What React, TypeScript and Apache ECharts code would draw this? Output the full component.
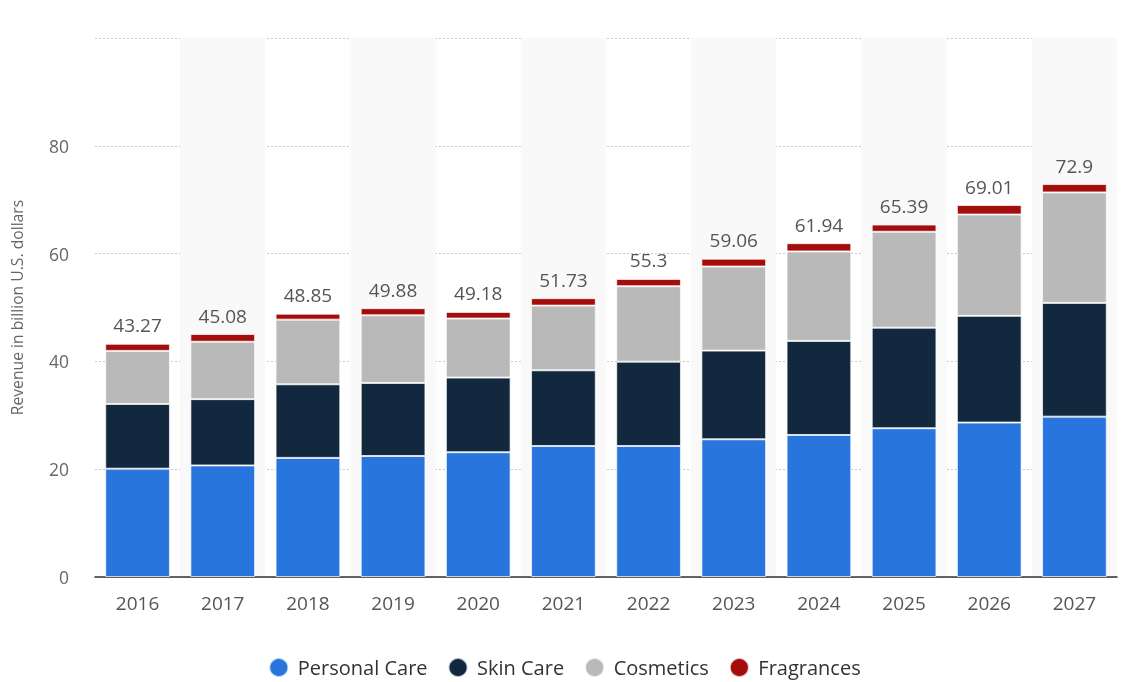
import React, { useEffect, useRef } from "react";
import * as echarts from "echarts";

const years = ["2016", "2017", "2018", "2019", "2020", "2021", "2022", "2023", "2024", "2025", "2026", "2027"];
const personalCare = [20.1, 20.7, 22.1, 22.45, 23.15, 24.3, 24.3, 25.55, 26.35, 27.6, 28.65, 29.75];
const skinCare = [12.0, 12.3, 13.65, 13.55, 13.85, 14.05, 15.65, 16.45, 17.45, 18.65, 19.8, 21.1];
const cosmetics = [9.85, 10.65, 12.0, 12.55, 10.95, 12.0, 14.0, 15.6, 16.6, 17.8, 18.8, 20.5];
const fragrances = [1.32, 1.43, 1.1, 1.33, 1.23, 1.38, 1.35, 1.46, 1.54, 1.34, 1.76, 1.55];
const totals = ["43.27", "45.08", "48.85", "49.88", "49.18", "51.73", "55.3", "59.06", "61.94", "65.39", "69.01", "72.9"];

const FONT = "'Open Sans', 'Noto Sans', sans-serif";

export default function App() {
  const ref = useRef<HTMLDivElement>(null);
  useEffect(() => {
    if (!ref.current) return;
    const chart = echarts.init(ref.current, undefined, { renderer: "svg" });
    const seg = (name: string, data: number[], color: string, extra: any = {}) => ({
      name,
      type: "bar",
      stack: "total",
      data,
      barCategoryGap: "24%",
      itemStyle: { color, borderColor: "rgba(255,255,255,0.7)", borderWidth: 1 },
      emphasis: { disabled: true },
      ...extra,
    });
    chart.setOption({
      animation: false,
      textStyle: { fontFamily: FONT },
      grid: { left: 95, right: 12, top: 38, bottom: 105, containLabel: false, outerBoundsMode: "none" },
      legend: {
        top: 652,
        left: "center",
        icon: "circle",
        itemWidth: 28,
        itemHeight: 19,
        itemGap: 20,
        textStyle: { fontSize: 20, color: "#333", fontFamily: FONT },
        data: ["Personal Care", "Skin Care", "Cosmetics", "Fragrances"],
      },
      xAxis: {
        type: "category",
        data: years,
        axisLine: { lineStyle: { color: "#333", width: 1.5 } },
        axisTick: { show: false },
        axisLabel: { fontSize: 19, color: "#555", margin: 16 },
        splitArea: { show: true, areaStyle: { color: ["rgba(0,0,0,0)", "#f9f9f9"] } },
      },
      yAxis: {
        type: "value",
        min: 0,
        max: 100,
        interval: 20,
        name: "Revenue in billion U.S. dollars",
        nameLocation: "middle",
        nameGap: 70,
        nameTextStyle: { fontSize: 15.7, color: "#666" },
        axisLine: { show: false },
        axisTick: { show: false },
        axisLabel: {
          fontSize: 17.5,
          color: "#666",
          margin: 26,
          formatter: (v: number) => (v === 100 ? "" : String(v)),
        },
        splitLine: { lineStyle: { color: "#c8c8c8", type: [2, 2], width: 1 } },
      },
      series: [
        seg("Personal Care", personalCare, "#2876dd"),
        seg("Skin Care", skinCare, "#12283f"),
        seg("Cosmetics", cosmetics, "#b9b9b9"),
        seg("Fragrances", fragrances, "#a50c0c", {
          label: {
            show: true,
            position: "top",
            distance: 9,
            fontSize: 19,
            color: "#555",
            fontFamily: FONT,
            formatter: (p: any) => totals[p.dataIndex],
          },
        }),
      ],
    });
    return () => chart.dispose();
  }, []);
  return <div ref={ref} style={{ position: "fixed", left: 0, top: 0, width: 1129, height: 682 }} />;
}
